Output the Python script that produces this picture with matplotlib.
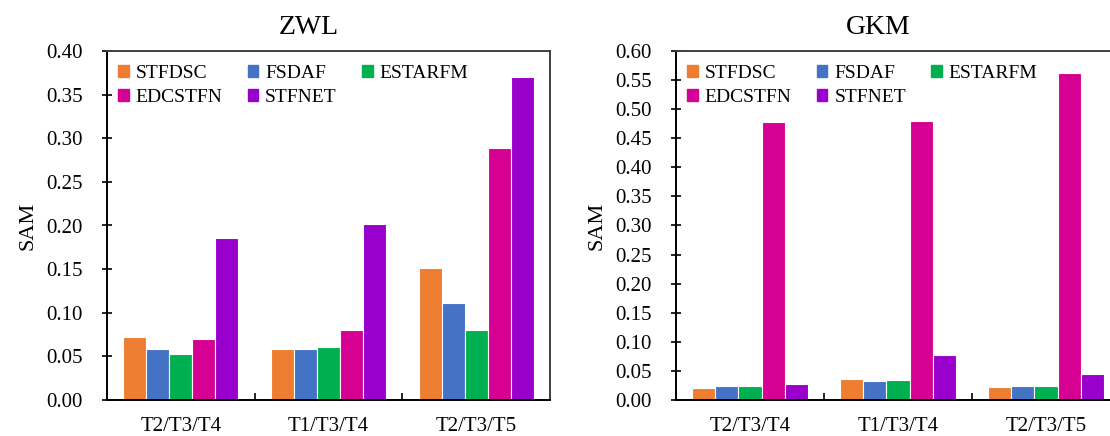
"""
SAM des méthodes de fusion spatio-temporelle sur deux sites
"""

import matplotlib
matplotlib.use("Agg")
import matplotlib.pyplot as plt
import matplotlib.patches as mpatches
import numpy as np

plt.rcParams["font.family"] = ["Liberation Serif", "DejaVu Serif"]

groups = ["T2/T3/T4", "T1/T3/T4", "T2/T3/T5"]
methods = ["STFDSC", "FSDAF", "ESTARFM", "EDCSTFN", "STFNET"]
colors = ["#ED7D31", "#4472C4", "#00B050", "#D60093", "#9900CC"]

# valeurs ZWL, une liste par méthode
zwl_stfdsc = [0.072, 0.058, 0.151]
zwl_fsdaf = [0.058, 0.058, 0.111]
zwl_estarfm = [0.053, 0.061, 0.080]
zwl_edcstfn = [0.070, 0.080, 0.289]
zwl_stfnet = [0.186, 0.202, 0.370]

# valeurs GKM
gkm_stfdsc = [0.021, 0.036, 0.022]
gkm_fsdaf = [0.024, 0.033, 0.024]
gkm_estarfm = [0.024, 0.034, 0.024]
gkm_edcstfn = [0.478, 0.479, 0.562]
gkm_stfnet = [0.028, 0.078, 0.044]

zwl = [zwl_stfdsc, zwl_fsdaf, zwl_estarfm, zwl_edcstfn, zwl_stfnet]
gkm = [gkm_stfdsc, gkm_fsdaf, gkm_estarfm, gkm_edcstfn, gkm_stfnet]


def draw_panel(ax, title, series, ymax):
    x = np.arange(len(groups))
    step = 0.156
    for i, (vals, col) in enumerate(zip(series, colors)):
        ax.bar(x + (i - 2) * step, vals, width=step, color=col,
               edgecolor="white", linewidth=0.8)

    ax.set_xlim(-0.5, len(groups) - 0.5)
    ax.set_ylim(0, ymax)
    yt = np.arange(0, ymax + 1e-9, 0.05)
    ax.set_yticks(yt)
    ax.set_yticklabels([f"{v:.2f}" for v in yt])
    ax.set_xticks(x)
    ax.set_xticklabels(groups)
    ax.set_xticks([0.5, 1.5], minor=True)
    ax.tick_params(axis="x", which="major", length=0, pad=12, labelsize=15)
    ax.tick_params(axis="x", which="minor", direction="in", length=5, width=1.2)
    ax.tick_params(axis="y", direction="inout", length=7, width=1.2,
                   pad=14, labelsize=15)
    ax.set_ylabel("SAM", fontsize=16, labelpad=6)
    ax.set_title(title, fontsize=20, pad=12)
    ax.title.set_x(0.5 - 20 / 443)

    for s in ["left", "bottom"]:
        ax.spines[s].set_color("black")
        ax.spines[s].set_linewidth(1.4)
    for s in ["top", "right"]:
        ax.spines[s].set_color("#404040")
        ax.spines[s].set_linewidth(1.4)

    # ordre ligne par ligne comme dans la figure d'origine
    patches = [mpatches.Patch(color=c, label=m) for m, c in zip(methods, colors)]
    order = [0, 3, 1, 4, 2]
    ax.legend(
        handles=[patches[k] for k in order],
        loc="upper left",
        bbox_to_anchor=(0.025, 0.96),
        ncol=3,
        frameon=False,
        fontsize=14,
        handlelength=0.55,
        handleheight=0.55,
        handletextpad=0.35,
        columnspacing=1.3,
        labelspacing=0.35,
        borderpad=0,
        borderaxespad=0,
    )


fig = plt.figure(figsize=(11.1, 4.36), dpi=100)
ax1 = fig.add_axes([107 / 1110, 1 - 400 / 436, 443 / 1110, 349 / 436])
ax2 = fig.add_axes([676 / 1110, 1 - 400 / 436, 444 / 1110, 349 / 436])

draw_panel(ax1, "ZWL", zwl, 0.40)
draw_panel(ax2, "GKM", gkm, 0.60)

fig.savefig("out.png", dpi=100)
